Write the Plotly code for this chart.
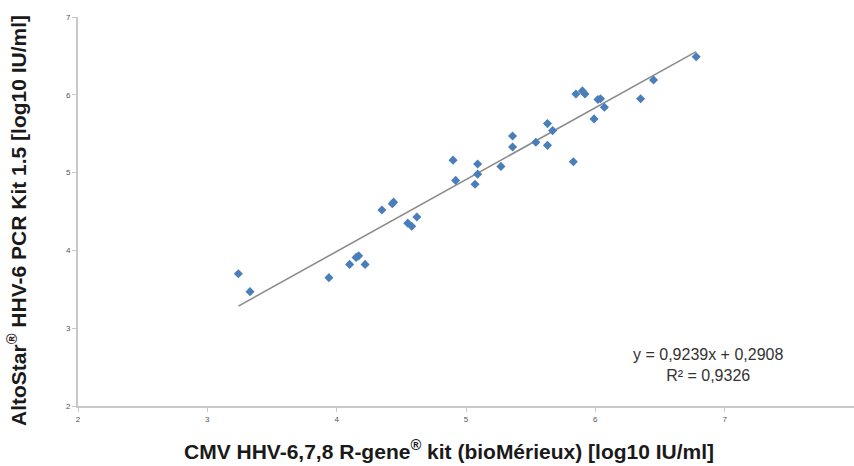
import plotly.graph_objects as go

# Data
x_cmv = [3.24, 3.33, 3.94, 4.10, 4.15, 4.17, 4.22, 4.35, 4.43, 4.44, 4.55, 4.58,
         4.62, 4.90, 4.92, 5.07, 5.09, 5.09, 5.27, 5.36, 5.36, 5.54, 5.63, 5.63,
         5.67, 5.83, 5.85, 5.90, 5.92, 5.99, 6.02, 6.04, 6.07, 6.35, 6.45, 6.78]
y_alto = [3.70, 3.47, 3.65, 3.82, 3.91, 3.93, 3.82, 4.52, 4.60, 4.62, 4.35, 4.31,
          4.43, 5.16, 4.90, 4.85, 4.98, 5.11, 5.08, 5.33, 5.47, 5.39, 5.63, 5.35,
          5.54, 5.14, 6.01, 6.05, 6.01, 5.69, 5.94, 5.95, 5.84, 5.95, 6.19, 6.49]
slope = 0.9239
intercept = 0.2908
r_squared = 0.9326
x_ticks = [2, 3, 4, 5, 6, 7]
y_ticks = [2, 3, 4, 5, 6, 7]
x_title = "<b>CMV HHV-6,7,8 R-gene<sup>®</sup> kit (bioMérieux) [log10 IU/ml]</b>"
y_title = "<b>AltoStar<sup>®</sup> HHV-6 PCR Kit 1.5 [log10 IU/ml]</b>"

x_lo, x_hi = min(x_cmv), max(x_cmv)
fit_x = [x_lo, x_hi]
fit_y = [slope * v + intercept for v in fit_x]

fig = go.Figure()
fig.add_trace(go.Scatter(x=fit_x, y=fit_y, mode="lines",
                         line=dict(color="#8c8c8c", width=1.6),
                         hoverinfo="skip", showlegend=False))
fig.add_trace(go.Scatter(x=x_cmv, y=y_alto, mode="markers",
                         marker=dict(symbol="diamond", size=7, color="#4a7ebb",
                                     line=dict(width=0)),
                         showlegend=False))

fmt = lambda v: f"{v:.4f}".replace(".", ",")
fig.add_annotation(x=6.87, y=2.53, xref="x", yref="y",
                   text=f"y = {fmt(slope)}x + {fmt(intercept)}<br>R² = {fmt(r_squared)}",
                   showarrow=False, align="center",
                   font=dict(family="Liberation Sans, Arial", size=16, color="#333333"))

title_font = dict(family="Liberation Sans, Arial", size=21, color="#1a1a1a")
fig.add_annotation(x=0.478, y=-0.113, xref="paper", yref="paper", text=x_title,
                   showarrow=False, font=title_font, xanchor="center", yanchor="middle")
fig.add_annotation(x=-0.0786, y=0.4756, xref="paper", yref="paper", text=y_title,
                   showarrow=False, font=title_font, textangle=-90,
                   xanchor="center", yanchor="middle")

axis_common = dict(showgrid=False, zeroline=False, showline=True,
                   linecolor="#c8c8c8", linewidth=2,
                   ticks="outside", ticklen=4, tickcolor="#c8c8c8", tickwidth=1,
                   tickfont=dict(family="Liberation Sans, Arial", size=8, color="#555555"))

fig.update_xaxes(range=[2, 8], tickvals=x_ticks, ticktext=[str(t) for t in x_ticks],
                 **axis_common)
fig.update_yaxes(range=[2, 7], tickvals=y_ticks, ticktext=[str(t) for t in y_ticks],
                 **axis_common)

fig.update_layout(width=854, height=466, margin=dict(l=78, r=0, t=17, b=60, autoexpand=False),
                  paper_bgcolor="white", plot_bgcolor="white",
                  font=dict(family="Liberation Sans, Arial"))

fig.write_html("out.html")
